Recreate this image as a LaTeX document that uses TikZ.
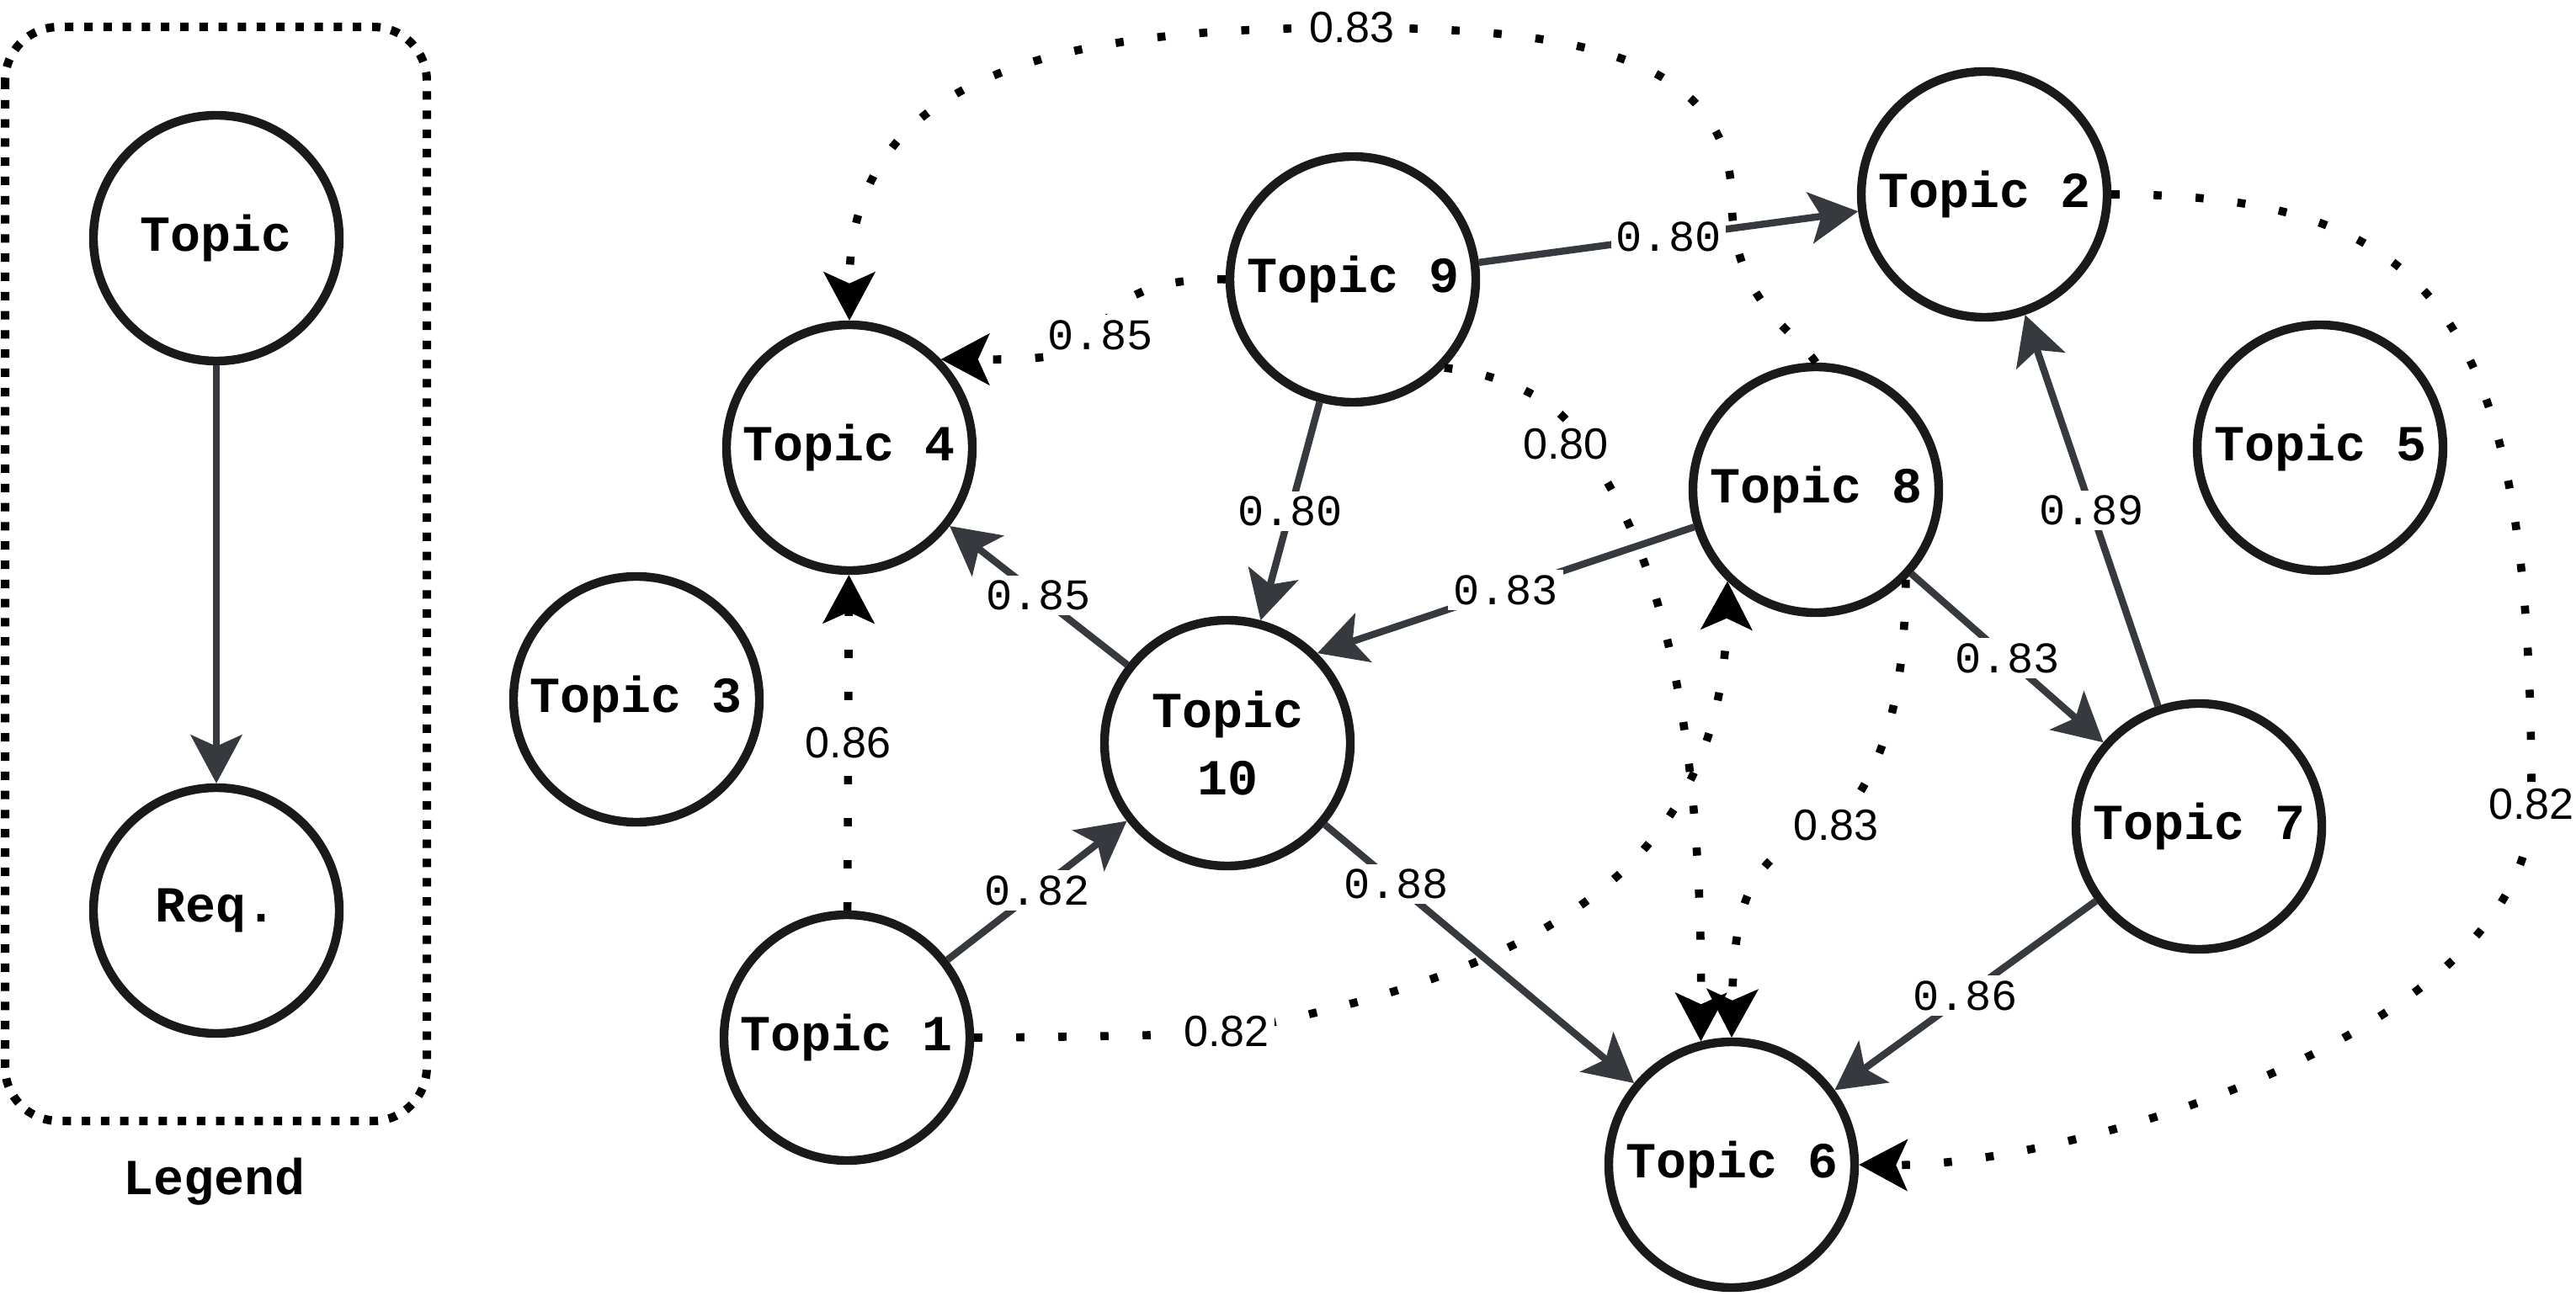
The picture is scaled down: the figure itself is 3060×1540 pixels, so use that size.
\documentclass[tikz,border=0pt]{standalone}
\usepackage{fontspec}
\usepackage{xcolor}
\usepackage{tikz}
\usetikzlibrary{arrows.meta,calc}
\newfontfamily\topicfont{Liberation Mono}
\newfontfamily\weightfont{Liberation Mono}
\newfontfamily\simfont{Liberation Sans}
\definecolor{edgegray}{HTML}{36393D}
\definecolor{ringblack}{HTML}{1A1A1A}
\tikzset{
  topic/.style={circle, draw=ringblack, line width=2.6pt, fill=white, minimum size=73pt, inner sep=0pt, align=center, font=\topicfont\bfseries\fontsize{15}{20}\selectfont},
  link/.style={draw=edgegray, line width=2.1pt, -{Stealth[length=14.5pt,width=15.5pt,inset=3.5pt,line width=0.5pt]}},
  rel/.style={draw=black, line width=2.4pt, dash pattern=on 2.4pt off 10.1pt, -{Stealth[length=14.5pt,width=15.5pt,inset=3.5pt,line width=0.5pt]}},
  wlabel/.style={fill=white, inner sep=1.5pt, font=\weightfont\fontsize{13}{13}\selectfont},
  slabel/.style={fill=white, inner sep=1.5pt, font=\simfont\fontsize{13}{13}\selectfont},
  legendbox/.style={draw=black, line width=2.5pt, dash pattern=on 2.5pt off 3.2pt, rounded corners=16pt}
}

\begin{document}
\begin{tikzpicture}[x=0.25pt,y=0.25pt,yscale=-1,xscale=1]
  \useasboundingbox (0,0) rectangle (3060,1540);

    % Legend
    \draw[legendbox] (6,32) rectangle (507,1332);
    \node[topic] (LTopic) at (257,283) {Topic};
    \node[topic] (LReq) at (257,1082) {Req.};
    \node[font=\topicfont\bfseries\fontsize{15}{20}\selectfont] (LText) at (255,1404) {Legend};
    \draw[link] (LTopic) -- (LReq);

    % Topic nodes
    \node[topic] (T1) at (1006,1233) {Topic 1};
    \node[topic] (T2) at (2357,231) {Topic 2};
    \node[topic] (T3) at (756,831) {Topic 3};
    \node[topic] (T4) at (1009,532) {Topic 4};
    \node[topic] (T5) at (2756,532) {Topic 5};
    \node[topic] (T6) at (2057,1384) {Topic 6};
    \node[topic] (T7) at (2612,982) {Topic 7};
    \node[topic] (T8) at (2157,582) {Topic 8};
    \node[topic] (T9) at (1607,332) {Topic 9};
    \node[topic] (T10) at (1458,883) {Topic\\10};

    % Requirement edges
    \draw[link] (T9) -- node[wlabel] {0.80} (T2);
    \draw[link] (T9) -- node[wlabel] {0.80} (T10);
    \draw[link] (T10) -- node[wlabel] {0.85} (T4);
    \draw[link] (T1) -- node[wlabel] {0.82} (T10);
    \draw[link] (T10) -- node[wlabel, pos=0.23] {0.88} (T6);
    \draw[link] (T8.197) -- node[wlabel] {0.83} (T10.45);
    \draw[link] (T8) -- node[wlabel] {0.83} (T7);
    \draw[link] (T7) -- node[wlabel] {0.89} (T2);
    \draw[link] (T7) -- node[wlabel] {0.86} (T6);

    % Similarity edges
    \draw[rel] (T1) -- node[slabel] {0.86} (T4);
    \draw[rel] (T8.north) .. controls (2130,390) and (2060,360) .. (2057,240)
      .. controls (2058,70) and (1880,33) .. (1606,33) node[slabel] {0.83}
      .. controls (1250,33) and (1009,90) .. (T4.north);
    \draw[rel] (T9.west) .. controls (1380,330) and (1320,350) .. (1307,398) node[wlabel] {0.85}
      .. controls (1290,430) and (1190,427) .. (T4.44);
    \draw[rel] (T9.-44) .. controls (1790,445) and (1860,480) .. (1880,528) node[slabel, xshift=-5pt] {0.80}
      .. controls (1970,650) and (2022,850) .. (T6.104);
    \draw[rel] (T1.east) .. controls (1300,1232) and (1400,1230) .. (1457,1226) node[slabel] {0.82}
      .. controls (1800,1160) and (2045,1050) .. (T8.226);
    \draw[rel] (T8.-45) .. controls (2262,800) and (2250,900) .. (2181,981) node[slabel] {0.83}
      .. controls (2090,1010) and (2060,1050) .. (T6.north);
    \draw[rel] (T2.east) .. controls (2900,231) and (3008,380) .. (3007,956) node[slabel] {0.82}
      .. controls (3005,1230) and (2450,1386) .. (T6.east);

  \end{tikzpicture}
\end{document}
